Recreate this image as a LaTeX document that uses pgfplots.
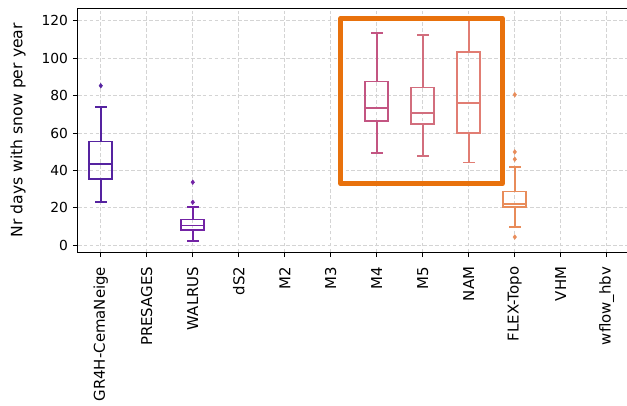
\documentclass[border=0pt]{standalone}
\usepackage{fontspec}
\setmainfont{DejaVu Sans}
\usepackage{pgfplots}
\pgfplotsset{compat=1.18}
\usepgfplotslibrary{statistics}
\definecolor{cA}{RGB}{85,35,160}
\definecolor{cB}{RGB}{115,35,165}
\definecolor{cC}{RGB}{195,85,130}
\definecolor{cD}{RGB}{210,110,125}
\definecolor{cE}{RGB}{225,125,115}
\definecolor{cF}{RGB}{232,140,90}
\definecolor{hl}{RGB}{232,113,12}
\definecolor{gridc}{RGB}{212,212,212}
\begin{document}
\begin{tikzpicture}
\path[use as bounding box] (-56.2pt,-111.1pt) rectangle (396.9pt,182.3pt);
\begin{axis}[
  at={(0,0)}, anchor=south west,
  scale only axis,
  width=398.9pt, height=176.3pt,
  xmin=-0.5, xmax=11.5,
  ymin=-3.74, ymax=126.7,
  font=\fontsize{10}{12}\selectfont,
  /pgf/number format/assume math mode=true,
  xtick={0,...,11},
  xticklabels={GR4H-CemaNeige,PRESAGES,WALRUS,dS2,M2,M3,M4,M5,NAM,FLEX-Topo,VHM,wflow\_hbv},
  xticklabel style={rotate=90, anchor=east, font=\fontsize{10.8}{13}\selectfont},
  xticklabel shift=3.5pt,
  ytick={0,20,...,120},
  tick align=outside, tick pos=left,
  major tick length=3.5pt,
  tick style={black, line width=0.6pt},
  axis line style={black, line width=0.6pt},
  grid=major,
  major grid style={gridc, dash pattern=on 2.7pt off 1.6pt, line width=0.6pt},
  ylabel={Nr days with snow per year},
  ylabel style={at={(axis description cs:-0.108,0.5)}, anchor=center, font=\fontsize{11.3}{13}\selectfont},
  boxplot/draw direction=y,
  boxplot/box extend=0.5,
  boxplot/whisker extend=0.25,
  boxplot/every box/.style={line width=1.2pt},
  boxplot/every median/.style={line width=1.2pt},
  boxplot/every whisker/.style={line width=1.2pt},
  every axis plot/.append style={line width=1.2pt},
]
\addplot[cA, mark=diamond*, mark size=1.7pt, mark options={fill=cA, line width=0.3pt}, boxplot prepared={draw position=0, lower whisker=23.2, lower quartile=35.3, median=43.5, upper quartile=55.4, upper whisker=73.8}] coordinates {(0,85.3)};
\addplot[cB, mark=diamond*, mark size=1.7pt, mark options={fill=cB, line width=0.3pt}, boxplot prepared={draw position=2, lower whisker=2.3, lower quartile=8.2, median=10.5, upper quartile=13.7, upper whisker=20.3}] coordinates {(2,33.7) (2,23.0)};
\addplot[cC, mark=diamond*, mark size=1.7pt, mark options={fill=cC, line width=0.3pt}, boxplot prepared={draw position=6, lower whisker=49.4, lower quartile=66.6, median=73.3, upper quartile=87.5, upper whisker=113.4}] coordinates {};
\addplot[cD, mark=diamond*, mark size=1.7pt, mark options={fill=cD, line width=0.3pt}, boxplot prepared={draw position=7, lower whisker=47.6, lower quartile=65.0, median=70.7, upper quartile=84.3, upper whisker=112.6}] coordinates {};
\addplot[cE, mark=diamond*, mark size=1.7pt, mark options={fill=cE, line width=0.3pt}, boxplot prepared={draw position=8, lower whisker=44.2, lower quartile=59.9, median=75.9, upper quartile=103.2, upper whisker=121.0}] coordinates {};
\addplot[cF, mark=diamond*, mark size=1.7pt, mark options={fill=cF, line width=0.3pt}, boxplot prepared={draw position=9, lower whisker=9.9, lower quartile=20.3, median=22.1, upper quartile=28.7, upper whisker=42.0}] coordinates {(9,80.5) (9,49.9) (9,46.0) (9,4.4)};
\addplot[hl, line width=3.6pt, line join=round, mark=none] coordinates {(5.22,32.8) (8.73,32.8) (8.73,121.4) (5.22,121.4)} -- cycle;
\end{axis}
\end{tikzpicture}
\end{document}
